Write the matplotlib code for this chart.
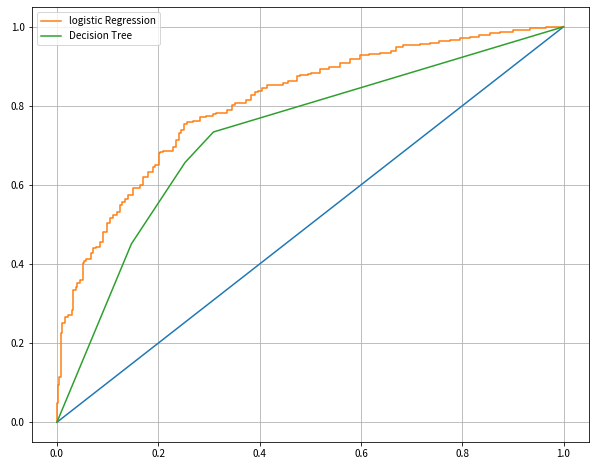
import matplotlib
matplotlib.use("Agg")
import matplotlib.pyplot as plt

plt.rcParams['font.family'] = ['Noto Sans CJK KR', 'DejaVu Sans']
plt.rcParams['axes.unicode_minus'] = False

# 기준선 (random)
base_fpr = [0, 1]
base_tpr = [0, 1]

# Logistic Regression ROC
lr_fpr = [0.0, 0.001, 0.002, 0.002, 0.005, 0.005, 0.009, 0.009, 0.011, 0.015,
          0.022, 0.029, 0.032, 0.037, 0.039, 0.045, 0.051, 0.053, 0.057, 0.068,
          0.072, 0.077, 0.085, 0.090, 0.090, 0.098, 0.105, 0.111, 0.118, 0.124,
          0.128, 0.134, 0.141, 0.150, 0.164, 0.170, 0.180, 0.190, 0.193, 0.202,
          0.203, 0.210, 0.229, 0.236, 0.241, 0.244, 0.250, 0.257, 0.269, 0.282,
          0.295, 0.308, 0.315, 0.335, 0.345, 0.351, 0.358, 0.374, 0.384, 0.391,
          0.397, 0.404, 0.414, 0.420, 0.446, 0.456, 0.473, 0.479, 0.496, 0.502,
          0.519, 0.538, 0.558, 0.578, 0.598, 0.617, 0.637, 0.660, 0.670, 0.683,
          0.716, 0.736, 0.755, 0.775, 0.795, 0.815, 0.834, 0.854, 0.874, 0.900,
          0.933, 0.966, 0.986, 1.0]
lr_tpr = [0.0, 0.048, 0.048, 0.094, 0.094, 0.114, 0.114, 0.213, 0.225, 0.251,
          0.266, 0.271, 0.284, 0.334, 0.342, 0.352, 0.359, 0.403, 0.408, 0.413,
          0.428, 0.441, 0.444, 0.456, 0.478, 0.482, 0.503, 0.516, 0.524, 0.532,
          0.549, 0.558, 0.564, 0.575, 0.592, 0.600, 0.621, 0.634, 0.646, 0.651,
          0.680, 0.684, 0.687, 0.697, 0.714, 0.731, 0.739, 0.754, 0.758, 0.763,
          0.771, 0.775, 0.780, 0.782, 0.790, 0.803, 0.807, 0.808, 0.815, 0.828,
          0.835, 0.838, 0.845, 0.853, 0.853, 0.857, 0.862, 0.876, 0.878, 0.881,
          0.884, 0.893, 0.898, 0.908, 0.918, 0.929, 0.932, 0.933, 0.940, 0.950,
          0.954, 0.957, 0.960, 0.963, 0.967, 0.971, 0.975, 0.980, 0.984, 0.988,
          0.992, 0.997, 1.0, 1.0]

# Decision Tree ROC
dt_fpr = [0.0, 0.147, 0.253, 0.309, 1.0]
dt_tpr = [0.0, 0.451, 0.657, 0.734, 1.0]

fig = plt.figure(figsize=(596 / 72, 467 / 72), dpi=72)
ax = fig.add_axes([0.053, 0.0535, 0.935, 0.9315])

ax.plot(base_fpr, base_tpr)
ax.plot(lr_fpr, lr_tpr, drawstyle='steps-pre', label='logistic Regression')
ax.plot(dt_fpr, dt_tpr, label='Decision Tree')

ax.tick_params(labelsize=10)
ax.grid(True)
ax.legend(loc='upper left', fontsize=10)

fig.savefig('out.png', dpi=72)
